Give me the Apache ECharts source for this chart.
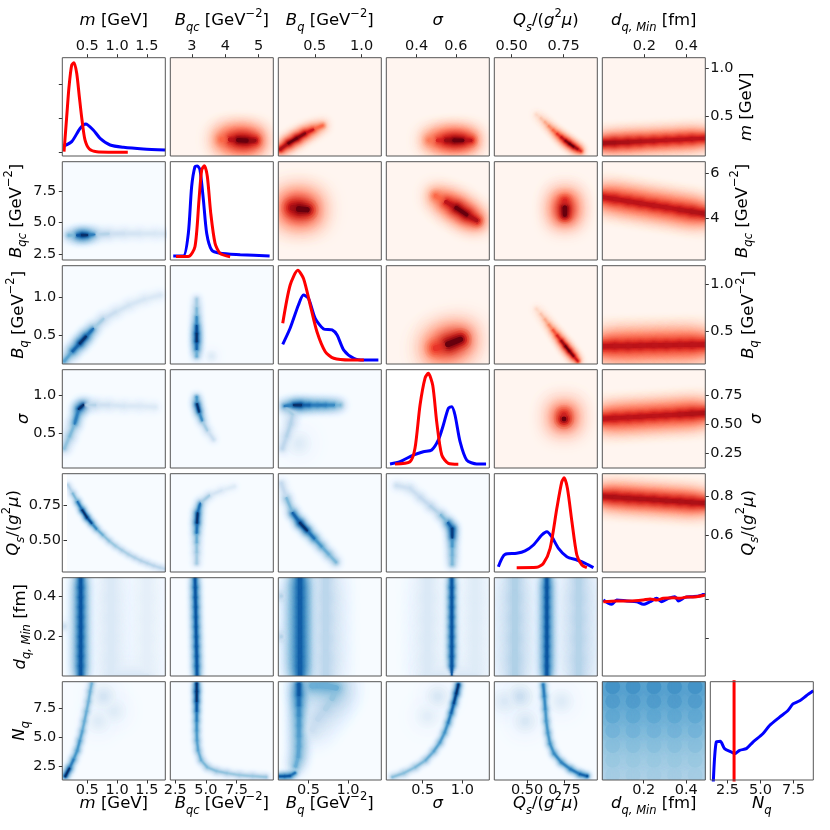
<!DOCTYPE html>
<html lang="en">
<head>
<meta charset="UTF-8">
<title>Corner plot</title>
<style>
    html, body { margin: 0; padding: 0; background: #fff; }
    .chart { width: 830px; height: 830px; }
</style>
</head>
<body>
<div class="chart" id="showData"></div>
<script src="https://cdn.jsdelivr.net/npm/echarts@6/dist/echarts.min.js"></script>
<script>
var FONT = 'DejaVu Sans';
// panel layout (pixels)
var PANEL_W = 103, PANEL_H = 98.3, LEFT0 = 62.3, TOP0 = 57.7, STEP_X = 108, STEP_Y = 104;

// axis titles, one per parameter
var axisTitles = [
    '{it|m} [GeV]',
    '{it|B}{sub|qc} [GeV{sup|\u22122}]',
    '{it|B}{sub|q} [GeV{sup|\u22122}]',
    '{it|\u03c3}',
    '{it|Q}{sub|s}/({it|g}{sup|2}{it|\u03bc})',
    '{it|d}{sub|q, Min} [fm]',
    '{it|N}{sub|q}'
];

// axis ranges: blue (lower triangle + diagonal) and red (upper triangle)
var blueXMin = [0.08, 2.1, 0.12, 0.04, 0.28, 0.005, 1.2];
var blueXMax = [1.81, 10.5, 1.42, 1.34, 0.97, 0.49, 9.0];
var blueYMin = [0.08, 2.0, 0.12, 0.05, 0.28, 0.005, 1.28];
var blueYMax = [1.81, 9.9, 1.42, 1.33, 0.97, 0.49, 9.85];
var redXMin = [0.09, 2.35, 0.11, 0.246, 0.417, 0.0];
var redXMax = [1.11, 5.44, 1.21, 0.77, 0.912, 0.49];
var redYMin = [0.09, 2.15, 0.146, 0.124, 0.41, 0.0];
var redYMax = [1.11, 6.5, 1.2, 0.967, 0.914, 0.49];

// tick values
var blueTicks = [[0.5, 1.0, 1.5], [2.5, 5.0, 7.5], [0.5, 1.0], [0.5, 1.0], [0.50, 0.75], [0.2, 0.4], [2.5, 5.0, 7.5]];
var blueDecimals = [1, 1, 1, 1, 2, 1, 1];
var redTopTicks = [[], [3, 4, 5], [0.5, 1.0], [0.4, 0.6], [0.50, 0.75], [0.2, 0.4]];
var redTopDecimals = [1, 0, 1, 1, 2, 1];
var redRightTicks = [[0.5, 1.0], [4, 6], [0.5, 1.0], [0.25, 0.50, 0.75], [0.6, 0.8]];
var redRightDecimals = [1, 0, 1, 2, 1];
var densityTicksM = [0.041, 0.387, 0.732];
var densityTicksDq = [0.387, 0.78];

// 1D marginals on the diagonal: [value, normalised density]
var mBlue = [[0.097,0.10],[0.238,0.146],[0.378,0.28],[0.474,0.326],[0.60,0.265],[0.715,0.18],[0.883,0.112],[1.107,0.088],[1.44,0.071],[1.81,0.061]];
var mRed = [[0.109,0.044],[0.154,0.40],[0.193,0.705],[0.238,0.926],[0.277,0.949],[0.322,0.841],[0.366,0.603],[0.411,0.366],[0.461,0.163],[0.534,0.071],[0.658,0.044],[1.18,0.038]];
var bqcBlue = [[2.34,0.04],[3.16,0.04],[3.57,0.27],[3.84,0.745],[4.11,0.95],[4.30,0.956],[4.52,0.916],[4.80,0.61],[5.07,0.27],[5.48,0.10],[6.16,0.068],[7.80,0.054],[10.2,0.04]];
var bqcRed = [[2.56,0.035],[3.57,0.035],[4.11,0.135],[4.44,0.61],[4.66,0.916],[4.88,0.96],[5.12,0.85],[5.40,0.475],[5.75,0.17],[6.16,0.068],[6.98,0.034]];
var bqBlue = [[0.176,0.2],[0.269,0.363],[0.374,0.6],[0.438,0.702],[0.501,0.668],[0.586,0.465],[0.692,0.356],[0.799,0.346],[0.862,0.295],[0.946,0.142],[1.073,0.058],[1.20,0.041],[1.383,0.041]];
var bqRed = [[0.176,0.414],[0.269,0.801],[0.367,0.953],[0.438,0.869],[0.523,0.6],[0.608,0.328],[0.713,0.125],[0.819,0.058],[1.03,0.041],[1.20,0.041]];
var sigBlue = [[0.087,0.041],[0.213,0.064],[0.381,0.132],[0.507,0.166],[0.613,0.183],[0.697,0.285],[0.76,0.437],[0.823,0.607],[0.866,0.624],[0.907,0.539],[0.971,0.268],[1.055,0.081],[1.181,0.041],[1.299,0.041]];
var sigRed = [[0.15,0.041],[0.339,0.064],[0.402,0.2],[0.466,0.641],[0.529,0.915],[0.57,0.963],[0.626,0.841],[0.676,0.471],[0.74,0.132],[0.823,0.048],[0.949,0.038]];
var qsBlue = [[0.307,0.054],[0.352,0.18],[0.43,0.19],[0.486,0.214],[0.542,0.275],[0.598,0.376],[0.632,0.41],[0.665,0.359],[0.71,0.241],[0.766,0.156],[0.833,0.122],[0.889,0.088],[0.944,0.044]];
var qsRed = [[0.43,0.044],[0.565,0.048],[0.609,0.088],[0.654,0.241],[0.699,0.648],[0.732,0.917],[0.748,0.958],[0.77,0.849],[0.8,0.512],[0.833,0.173],[0.867,0.071],[0.9,0.044]];
var dqBlue = [[0.0097,0.773],[0.033,0.74],[0.049,0.729],[0.073,0.773],[0.12,0.763],[0.167,0.756],[0.198,0.729],[0.23,0.756],[0.261,0.79],[0.285,0.756],[0.316,0.79],[0.347,0.807],[0.363,0.763],[0.394,0.80],[0.433,0.807],[0.465,0.817],[0.49,0.841]];
var dqRed = [[0.0097,0.756],[0.073,0.763],[0.136,0.763],[0.198,0.773],[0.23,0.783],[0.261,0.773],[0.292,0.79],[0.339,0.797],[0.37,0.79],[0.402,0.803],[0.449,0.807],[0.49,0.824]];
var nqBlue = [[1.42,-0.05],[1.65,0.386],[1.96,0.393],[2.28,0.319],[2.79,0.285],[3.04,0.268],[3.42,0.302],[3.93,0.319],[4.43,0.386],[5.18,0.47],[5.69,0.555],[6.45,0.64],[7.08,0.707],[7.46,0.774],[7.97,0.806],[8.47,0.857],[9.0,0.907]];
var nqFixed = [[3.0,-0.1],[3.0,1.1]];

// 2D densities, read as ridge points: [x, y, density level 0..1, spread (fraction of panel width)]
// red (upper triangle)
var redMBqc = [[3.90,0.26,0.5,0.34],[4.14,0.26,0.8,0.34],[4.39,0.255,1,0.34],[4.64,0.25,0.9,0.34],[4.88,0.25,0.6,0.34]];
var redMBq = [[0.132,0.161,0.85,0.17],[0.22,0.223,1,0.17],[0.308,0.274,0.95,0.17],[0.396,0.325,0.75,0.17],[0.484,0.365,0.5,0.17],[0.583,0.406,0.3,0.17]];
var redMSig = [[0.466,0.253,0.45,0.3],[0.508,0.253,0.7,0.3],[0.55,0.253,0.9,0.3],[0.592,0.253,1,0.3],[0.634,0.253,0.8,0.3],[0.676,0.253,0.5,0.3]];
var redMQs = [[0.620,0.518,0.15,0.12],[0.640,0.483,0.22,0.12],[0.660,0.442,0.3,0.12],[0.679,0.401,0.4,0.12],[0.699,0.36,0.5,0.12],[0.719,0.32,0.65,0.12],
    [0.739,0.284,0.8,0.12],[0.759,0.248,0.95,0.12],[0.778,0.218,1,0.12],[0.798,0.187,0.9,0.12],[0.818,0.161,0.7,0.12],[0.833,0.141,0.45,0.12]];
var redMDq = [[0,0.223,0.88,0.26],[0.059,0.229,0.86,0.26],[0.1225,0.235,0.84,0.26],[0.181,0.241,0.82,0.26],[0.245,0.248,0.8,0.26],
    [0.304,0.254,0.8,0.26],[0.3675,0.261,0.8,0.26],[0.426,0.267,0.8,0.26],[0.49,0.274,0.8,0.26]];
var redBqcBq = [[0.264,4.456,0.85,0.45],[0.33,4.41,1,0.45],[0.418,4.37,0.6,0.45]];
var redBqcSig = [[0.498,4.98,0.5,0.3],[0.55,4.72,0.8,0.3],[0.602,4.46,1,0.3],[0.655,4.15,0.85,0.3],[0.707,3.89,0.5,0.3]];
var redBqcQs = [[0.756,4.76,0.7,0.36],[0.756,4.46,1,0.36],[0.756,4.15,0.7,0.36]];
var redBqcDq = [[0,4.934,0.8,0.32],[0.059,4.847,0.8,0.32],[0.1225,4.751,0.8,0.32],[0.181,4.66,0.8,0.32],[0.245,4.564,0.8,0.32],
    [0.304,4.477,0.8,0.32],[0.3675,4.377,0.82,0.32],[0.426,4.29,0.84,0.32],[0.49,4.195,0.84,0.32]];
var redBqSig = [[0.498,0.315,0.65,0.45],[0.56,0.357,1,0.45],[0.623,0.41,0.7,0.45]];
var redBqQs = [[0.620,0.736,0.15,0.12],[0.640,0.684,0.22,0.12],[0.660,0.626,0.3,0.12],[0.679,0.568,0.4,0.12],[0.699,0.51,0.55,0.12],[0.719,0.452,0.7,0.12],
    [0.739,0.394,0.9,0.12],[0.759,0.336,1,0.12],[0.778,0.283,0.95,0.12],[0.798,0.23,0.75,0.12],[0.818,0.178,0.5,0.12]];
var redBqDq = [[0,0.335,0.8,0.36],[0.059,0.338,0.8,0.36],[0.1225,0.34,0.8,0.36],[0.181,0.343,0.8,0.36],[0.245,0.346,0.8,0.36],
    [0.304,0.348,0.8,0.36],[0.3675,0.351,0.8,0.36],[0.426,0.353,0.8,0.36],[0.49,0.356,0.8,0.36]];
var redSigQs = [[0.752,0.579,0.7,0.4],[0.752,0.545,1,0.4]];
var redSigDq = [[0,0.546,0.8,0.32],[0.059,0.552,0.8,0.32],[0.1225,0.558,0.8,0.32],[0.181,0.564,0.8,0.32],[0.245,0.571,0.8,0.32],
    [0.304,0.577,0.8,0.32],[0.3675,0.583,0.82,0.32],[0.426,0.589,0.84,0.32],[0.49,0.596,0.85,0.32]];
var redQsDq = [[0,0.798,0.85,0.3],[0.059,0.794,0.85,0.3],[0.1225,0.789,0.85,0.3],[0.181,0.785,0.85,0.3],[0.245,0.781,0.85,0.3],
    [0.304,0.776,0.85,0.3],[0.3675,0.772,0.85,0.3],[0.426,0.767,0.85,0.3],[0.49,0.763,0.85,0.3]];

// blue (lower triangle)
var blueBqcM = [[0.19,3.98,0.45,0.17],[0.33,3.98,0.85,0.17],[0.41,4.0,1,0.17],[0.50,4.0,0.7,0.17],[0.62,4.05,0.3,0.17],[0.86,4.1,0.2,0.17],
    [1.12,4.12,0.17,0.17],[1.38,4.12,0.15,0.17],[1.64,4.12,0.14,0.17],[1.81,4.1,0.13,0.17]];
var blueBqM = [[0.115,0.159,0.55,0.16],[0.253,0.289,0.8,0.16],[0.374,0.393,1,0.16],[0.478,0.484,0.75,0.16],[0.599,0.588,0.35,0.16],[0.772,0.718,0.22,0.16],
    [0.98,0.809,0.18,0.16],[1.205,0.90,0.16,0.16],[1.464,0.978,0.14,0.16],[1.724,1.03,0.13,0.16]];
var blueSigM = [[1.637,0.844,0.13,0.16],[1.378,0.856,0.14,0.16],[1.118,0.856,0.16,0.16],[0.859,0.869,0.2,0.16],[0.634,0.869,0.3,0.16],[0.433,0.869,1,0.16],
    [0.357,0.818,0.7,0.16],[0.288,0.626,0.45,0.16],[0.201,0.46,0.4,0.16],[0.115,0.306,0.4,0.16]];
var blueQsM = [[0.097,0.891,0.3,0.1],[0.18,0.832,0.45,0.1],[0.265,0.773,0.75,0.1],[0.348,0.715,1,0.1],[0.433,0.662,0.9,0.1],[0.516,0.622,0.65,0.1],
    [0.601,0.582,0.5,0.1],[0.713,0.539,0.42,0.1],[0.824,0.497,0.38,0.1],[0.936,0.462,0.35,0.1],[1.049,0.432,0.33,0.1],[1.161,0.404,0.32,0.1],
    [1.272,0.381,0.31,0.1],[1.384,0.359,0.3,0.1],[1.497,0.341,0.29,0.1],[1.608,0.324,0.28,0.1],[1.72,0.31,0.27,0.1],[1.805,0.301,0.27,0.1]];
var blueDqM = [[0.39,0.005,0.85,0.2],[0.39,0.054,0.85,0.2],[0.39,0.102,0.85,0.2],[0.39,0.151,0.85,0.2],[0.39,0.199,0.85,0.2],[0.39,0.248,0.85,0.2],
    [0.39,0.296,0.85,0.2],[0.39,0.345,0.85,0.2],[0.39,0.393,0.85,0.2],[0.39,0.442,0.85,0.2],[0.39,0.49,0.85,0.2],
    [0.9,0.49,0.14,0.45],[0.9,0.39,0.14,0.45],[0.9,0.29,0.14,0.45],[0.9,0.19,0.14,0.45],[0.9,0.09,0.14,0.45],[0.9,0.005,0.14,0.45],
    [1.5,0.005,0.09,0.45],[1.5,0.09,0.09,0.45],[1.5,0.19,0.09,0.45],[1.5,0.29,0.09,0.45],[1.5,0.39,0.09,0.45],[1.5,0.49,0.09,0.45],
    [0.12,0.25,0.2,0.21]];
var blueNqM = [[0.132,1.623,1,0.11],[0.201,2.308,0.7,0.11],[0.27,3.08,0.6,0.11],[0.331,3.85,0.6,0.11],[0.374,4.708,0.55,0.11],[0.417,5.565,0.5,0.11],
    [0.452,6.42,0.5,0.11],[0.487,7.28,0.48,0.11],[0.521,8.14,0.48,0.11],[0.547,8.99,0.48,0.11],[0.573,9.68,0.48,0.11],
    [0.772,8.56,0.17,0.5],[0.945,7.28,0.12,0.5],[0.686,6.42,0.12,0.5]];
var blueBqBqc = [[4.25,0.224,0.5,0.13],[4.25,0.315,0.8,0.13],[4.25,0.419,1,0.13],[4.25,0.523,0.9,0.13],[4.25,0.627,0.65,0.13],[4.25,0.744,0.45,0.13],
    [4.25,0.861,0.35,0.13],[4.25,0.978,0.25,0.13],[5.46,0.224,0.12,0.25]];
var blueSigBqc = [[4.25,0.972,0.6,0.12],[4.28,0.882,1,0.12],[4.45,0.78,0.65,0.12],[4.70,0.664,0.35,0.12],[5.12,0.536,0.22,0.12],[5.63,0.421,0.14,0.12]];
var blueQsBqc = [[4.25,0.342,0.35,0.12],[4.25,0.418,0.4,0.12],[4.25,0.487,0.5,0.12],[4.25,0.556,0.75,0.12],[4.28,0.625,1,0.12],[4.33,0.694,0.75,0.12],
    [4.54,0.763,0.35,0.12],[5.29,0.818,0.17,0.12],[6.3,0.853,0.12,0.12],[7.31,0.88,0.1,0.12]];
var blueDqBqc = [[4.28,0.005,0.85,0.13],[4.26,0.054,0.85,0.13],[4.25,0.102,0.85,0.13],[4.23,0.151,0.85,0.13],[4.22,0.199,0.85,0.13],[4.2,0.248,0.85,0.13],
    [4.18,0.296,0.85,0.13],[4.17,0.345,0.85,0.13],[4.15,0.393,0.85,0.13],[4.14,0.442,0.85,0.13],[4.12,0.49,0.88,0.13]];
var blueNqBqc = [[4.25,9.68,1,0.11],[4.25,8.99,1,0.11],[4.25,8.14,0.85,0.11],[4.25,7.28,0.7,0.11],[4.25,6.42,0.62,0.11],[4.25,5.565,0.58,0.11],
    [4.28,4.708,0.55,0.11],[4.37,3.85,0.5,0.11],[4.62,2.994,0.45,0.11],[5.12,2.39,0.42,0.11],[5.88,2.05,0.4,0.11],[6.72,1.88,0.38,0.11],
    [7.73,1.71,0.38,0.11],[8.82,1.62,0.38,0.11],[9.91,1.54,0.38,0.11]];
var blueSigBq = [[0.9,0.869,0.45,0.17],[0.822,0.869,0.65,0.17],[0.718,0.869,0.7,0.17],[0.614,0.869,0.7,0.17],[0.51,0.869,0.8,0.17],[0.406,0.869,1,0.17],
    [0.315,0.869,0.7,0.17],[0.198,0.856,0.35,0.17],[0.3,0.75,0.3,0.17],[0.276,0.626,0.3,0.17],[0.224,0.46,0.27,0.17],[0.172,0.306,0.25,0.17],
    [0.38,0.37,0.12,0.5]];
var blueQsBq = [[0.159,0.901,0.25,0.15],[0.224,0.798,0.45,0.15],[0.302,0.694,0.8,0.15],[0.393,0.625,1,0.15],[0.484,0.57,0.75,0.15],[0.575,0.515,0.6,0.15],
    [0.666,0.459,0.5,0.15],[0.757,0.404,0.45,0.15],[0.848,0.349,0.4,0.15]];
var blueDqBq = [[0.393,0.005,0.82,0.3],[0.393,0.054,0.82,0.3],[0.393,0.102,0.82,0.3],[0.393,0.151,0.82,0.3],[0.393,0.199,0.82,0.3],[0.393,0.248,0.82,0.3],
    [0.393,0.296,0.82,0.3],[0.393,0.345,0.82,0.3],[0.393,0.393,0.82,0.3],[0.393,0.442,0.82,0.3],[0.393,0.49,0.85,0.3],
    [0.72,0.49,0.28,0.45],[0.72,0.39,0.28,0.45],[0.72,0.29,0.28,0.45],[0.72,0.19,0.28,0.45],[0.72,0.09,0.28,0.45],[0.72,0.005,0.28,0.45],
    [0.159,0.2,0.3,0.25],[0.159,0.4,0.3,0.25]];
var blueNqBq = [[0.38,9.6,0.85,0.22],[0.38,8.7,0.75,0.22],[0.38,7.8,0.65,0.22],[0.38,6.9,0.6,0.22],[0.38,6.0,0.58,0.22],[0.38,5.1,0.55,0.22],
    [0.38,4.2,0.55,0.22],[0.37,3.3,0.5,0.22],[0.34,2.5,0.5,0.22],
    [0.55,9.5,0.5,0.45],[0.72,9.5,0.5,0.45],[0.85,9.3,0.4,0.45],[0.8,8.4,0.32,0.45],[0.72,7.5,0.27,0.45],[0.62,6.6,0.22,0.45],[0.55,5.7,0.18,0.45],
    [0.13,1.6,0.85,0.11],[0.2,1.6,0.85,0.11],[0.27,1.65,0.75,0.11],[0.33,1.9,0.6,0.11]];
var blueQsSig = [[0.17,0.887,0.2,0.15],[0.339,0.867,0.22,0.15],[0.469,0.804,0.25,0.15],[0.599,0.742,0.3,0.15],[0.729,0.68,0.45,0.15],[0.82,0.625,0.8,0.15],
    [0.872,0.584,0.95,0.15],[0.872,0.521,0.6,0.15],[0.872,0.459,0.48,0.15],[0.872,0.397,0.45,0.15],[0.872,0.335,0.45,0.15]];
var blueDqSig = [[0.866,0.005,0.85,0.14],[0.866,0.054,0.85,0.14],[0.866,0.102,0.85,0.14],[0.866,0.151,0.85,0.14],[0.866,0.199,0.85,0.14],[0.866,0.248,0.85,0.14],
    [0.866,0.296,0.85,0.14],[0.866,0.345,0.85,0.14],[0.866,0.393,0.85,0.14],[0.866,0.442,0.85,0.14],[0.866,0.49,0.85,0.14],
    [0.56,0.49,0.14,0.45],[0.56,0.39,0.14,0.45],[0.56,0.29,0.14,0.45],[0.56,0.19,0.14,0.45],[0.56,0.09,0.14,0.45],[0.56,0.005,0.14,0.45],
    [1.16,0.005,0.12,0.45],[1.16,0.09,0.12,0.45],[1.16,0.19,0.12,0.45],[1.16,0.29,0.12,0.45],[1.16,0.39,0.12,0.45],[1.16,0.49,0.12,0.45]];
var blueNqSig = [[0.95,9.59,1,0.11],[0.924,8.82,0.92,0.11],[0.892,7.96,0.8,0.11],[0.859,7.11,0.7,0.11],[0.82,6.25,0.62,0.11],[0.775,5.39,0.58,0.11],
    [0.716,4.54,0.55,0.11],[0.638,3.77,0.5,0.11],[0.534,2.99,0.45,0.11],[0.404,2.39,0.42,0.11],[0.261,1.88,0.42,0.11],[0.118,1.54,0.42,0.11],
    [0.69,8.56,0.15,0.5],[0.56,6.85,0.1,0.5]];
var blueDqQs = [[0.632,0.005,0.85,0.18],[0.632,0.054,0.85,0.18],[0.632,0.102,0.85,0.18],[0.632,0.151,0.85,0.18],[0.632,0.199,0.85,0.18],[0.632,0.248,0.85,0.18],
    [0.632,0.296,0.85,0.18],[0.632,0.345,0.85,0.18],[0.632,0.393,0.85,0.18],[0.632,0.442,0.85,0.18],[0.632,0.49,0.85,0.18],
    [0.418,0.49,0.32,0.45],[0.418,0.39,0.32,0.45],[0.418,0.29,0.32,0.45],[0.418,0.19,0.32,0.45],[0.418,0.09,0.32,0.45],[0.418,0.005,0.32,0.45],
    [0.845,0.005,0.3,0.45],[0.845,0.09,0.3,0.45],[0.845,0.19,0.3,0.45],[0.845,0.29,0.3,0.45],[0.845,0.39,0.3,0.45],[0.845,0.49,0.3,0.45]];
var blueNqQs = [[0.608,9.59,0.7,0.11],[0.615,8.56,0.65,0.11],[0.622,7.45,0.6,0.11],[0.628,6.42,0.6,0.11],[0.639,5.39,0.6,0.11],[0.653,4.45,0.62,0.11],
    [0.68,3.59,0.65,0.11],[0.729,2.82,0.68,0.11],[0.791,2.22,0.72,0.11],[0.853,1.79,0.8,0.11],[0.901,1.62,0.92,0.11],
    [0.4525,8.56,0.22,0.5],[0.487,6.42,0.15,0.5],[0.349,8.14,0.14,0.5],[0.729,8.14,0.12,0.5]];
var blueNqDq = [
    [0.054,9.42,0.62,1.2],[0.15,9.42,0.62,1.2],[0.248,9.42,0.62,1.2],[0.345,9.42,0.62,1.2],[0.442,9.42,0.62,1.2],
    [0.054,8.14,0.57,1.2],[0.15,8.14,0.57,1.2],[0.248,8.14,0.57,1.2],[0.345,8.14,0.57,1.2],[0.442,8.14,0.57,1.2],
    [0.054,6.85,0.52,1.2],[0.15,6.85,0.52,1.2],[0.248,6.85,0.52,1.2],[0.345,6.85,0.52,1.2],[0.442,6.85,0.52,1.2],
    [0.054,5.57,0.47,1.2],[0.15,5.57,0.47,1.2],[0.248,5.57,0.47,1.2],[0.345,5.57,0.47,1.2],[0.442,5.57,0.47,1.2],
    [0.054,4.28,0.42,1.2],[0.15,4.28,0.42,1.2],[0.248,4.28,0.42,1.2],[0.345,4.28,0.42,1.2],[0.442,4.28,0.42,1.2],
    [0.054,3.0,0.38,1.2],[0.15,3.0,0.38,1.2],[0.248,3.0,0.38,1.2],[0.345,3.0,0.38,1.2],[0.442,3.0,0.38,1.2],
    [0.054,1.71,0.35,1.2],[0.15,1.71,0.35,1.2],[0.248,1.71,0.35,1.2],[0.345,1.71,0.35,1.2],[0.442,1.71,0.35,1.2]];

var diagBlue = [mBlue, bqcBlue, bqBlue, sigBlue, qsBlue, dqBlue, nqBlue];
var diagRed = [mRed, bqcRed, bqRed, sigRed, qsRed, dqRed, nqFixed];
var blobData = {
    '0,1': redMBqc, '0,2': redMBq, '0,3': redMSig, '0,4': redMQs, '0,5': redMDq,
    '1,2': redBqcBq, '1,3': redBqcSig, '1,4': redBqcQs, '1,5': redBqcDq,
    '2,3': redBqSig, '2,4': redBqQs, '2,5': redBqDq,
    '3,4': redSigQs, '3,5': redSigDq, '4,5': redQsDq,
    '1,0': blueBqcM, '2,0': blueBqM, '3,0': blueSigM, '4,0': blueQsM, '5,0': blueDqM, '6,0': blueNqM,
    '2,1': blueBqBqc, '3,1': blueSigBqc, '4,1': blueQsBqc, '5,1': blueDqBqc, '6,1': blueNqBqc,
    '3,2': blueSigBq, '4,2': blueQsBq, '5,2': blueDqBq, '6,2': blueNqBq,
    '4,3': blueQsSig, '5,3': blueDqSig, '6,3': blueNqSig,
    '5,4': blueDqQs, '6,4': blueNqQs, '6,5': blueNqDq
};

var leftNameGap = [0, 33, 31, 26, 40, 29, 30];
var rightNameGap = [28, 24, 30, 38, 30];
var topNameGap = 24, bottomNameGap = 11;

// colour ramps (matplotlib Reds / Blues)
var redRamp = ['#fff5f0', '#fee0d2', '#fcbba1', '#fc9272', '#fb6a4a', '#ef3b2c', '#cb181d', '#a50f15', '#67000d'];
var blueRamp = ['#f7fbff', '#deebf7', '#c6dbef', '#9ecae1', '#6baed6', '#4292c6', '#2171b5', '#08519c', '#08306b'];
// nested layers per density point, from the outer halo to the core
var LEVEL_SIZE = [1.0, 0.78, 0.58, 0.4, 0.24];
var LEVEL_TONE = [0.25, 0.45, 0.65, 0.83, 1.0];

var richText = {
    it: {fontStyle: 'italic', fontSize: 16.5, fontFamily: FONT, color: '#000'},
    sub: {fontStyle: 'italic', fontSize: 11.5, fontFamily: FONT, color: '#000', verticalAlign: 'bottom'},
    sup: {fontSize: 11.5, fontFamily: FONT, color: '#000', verticalAlign: 'top'}
};

function hexRgb(h) {
    return [parseInt(h.substr(1, 2), 16), parseInt(h.substr(3, 2), 16), parseInt(h.substr(5, 2), 16)];
}
function rampColor(ramp, t) {
    t = Math.max(0, Math.min(1, t));
    var x = t * (ramp.length - 1);
    var k = Math.min(Math.floor(x), ramp.length - 2);
    var f = x - k;
    var a = hexRgb(ramp[k]), b = hexRgb(ramp[k + 1]);
    return 'rgb(' + Math.round(a[0] + (b[0] - a[0]) * f) + ',' + Math.round(a[1] + (b[1] - a[1]) * f) + ',' +
        Math.round(a[2] + (b[2] - a[2]) * f) + ')';
}
function fmt(dec) {
    return function (v) { return v.toFixed(dec); };
}
function hiddenAxis(min, max, gridIndex) {
    return {
        type: 'value', gridIndex: gridIndex, min: min, max: max,
        axisLine: {show: false, onZero: false},
        axisTick: {show: false}, axisLabel: {show: false}, splitLine: {show: false}
    };
}
function setTicks(ax, pos, ticks, dec, margin) {
    ax.position = pos;
    ax.axisTick = {show: true, length: 3.5, customValues: ticks, lineStyle: {color: '#333', width: 1}};
    if (dec !== null) {
        ax.axisLabel = {show: true, customValues: ticks, formatter: fmt(dec), margin: margin,
            fontSize: 14.5, fontFamily: FONT, color: '#111'};
    }
}
function setName(ax, title, gap, rotate) {
    ax.name = title;
    ax.nameLocation = 'middle';
    ax.nameGap = gap;
    ax.nameRotate = rotate;
    ax.nameMoveOverlap = false;
    ax.nameTextStyle = {fontSize: 16.5, fontFamily: FONT, color: '#000', lineHeight: 26, rich: richText};
}
// one layer of soft density: blurred disc per point, joined to the next point of the same ridge
function blobLayer(data, ramp, level) {
    return function (params, api) {
        var j = params.dataIndex;
        var pt = data[j];
        var p = api.coord([pt[0], pt[1]]);
        var outer = pt[3] * PANEL_W / 2;
        var R = outer * LEVEL_SIZE[level];
        var col = rampColor(ramp, pt[2] * LEVEL_TONE[level]);
        var z2 = level * 200 + Math.round(pt[2] * 100);
        var blur = R * 1.3;
        var children = [{
            type: 'circle', z2: z2, shape: {cx: p[0], cy: p[1], r: R * 0.5},
            style: {fill: col, shadowBlur: blur, shadowColor: col}
        }];
        var nx = data[j + 1];
        if (nx && nx[3] === pt[3] && pt[3] < 0.5) {
            var q = api.coord([nx[0], nx[1]]);
            var dist = Math.sqrt((q[0] - p[0]) * (q[0] - p[0]) + (q[1] - p[1]) * (q[1] - p[1]));
            if (dist < 2.6 * outer) {
                children.push({
                    type: 'line', z2: z2, shape: {x1: p[0], y1: p[1], x2: q[0], y2: q[1]},
                    style: {stroke: col, lineWidth: R, lineCap: 'round', shadowBlur: blur, shadowColor: col}
                });
            }
        }
        return {type: 'group', children: children};
    };
}

function buildOption() {
    var grids = [], xAxes = [], yAxes = [], series = [], frames = [];
    for (var r = 0; r < 7; r++) {
        for (var c = 0; c < 7; c++) {
            if (c > r && c === 6) continue;
            var idx = grids.length;
            var panelLeft = LEFT0 + STEP_X * c, panelTop = TOP0 + STEP_Y * r;
            var kind = r === c ? 'diag' : (c > r ? 'red' : 'blue');
            grids.push({
                left: panelLeft, top: panelTop, width: PANEL_W, height: PANEL_H, show: true, borderWidth: 0,
                backgroundColor: kind === 'red' ? '#fff5f0' : (kind === 'blue' ? '#f7fbff' : '#ffffff')
            });
            frames.push({
                type: 'rect', z: 100, silent: true,
                shape: {x: panelLeft, y: panelTop, width: PANEL_W, height: PANEL_H},
                style: {fill: 'none', stroke: '#555', lineWidth: 1}
            });

            var xa, ya;
            if (kind === 'red') {
                xa = hiddenAxis(redXMin[c], redXMax[c], idx);
                ya = hiddenAxis(redYMin[r], redYMax[r], idx);
            } else if (kind === 'blue') {
                xa = hiddenAxis(blueXMin[c], blueXMax[c], idx);
                ya = hiddenAxis(blueYMin[r], blueYMax[r], idx);
            } else {
                xa = hiddenAxis(blueXMin[c], blueXMax[c], idx);
                ya = hiddenAxis(0, 1, idx);
            }

            if (r === 0) {
                setTicks(xa, 'top', c === 0 ? blueTicks[0] : redTopTicks[c], c === 0 ? blueDecimals[0] : redTopDecimals[c], 4);
                setName(xa, axisTitles[c], topNameGap, 0);
            }
            if (r === 6) {
                setTicks(xa, 'bottom', blueTicks[c], blueDecimals[c], 3);
                setName(xa, axisTitles[c], bottomNameGap, 0);
            }
            if (c === 0 && r > 0) {
                setTicks(ya, 'left', blueTicks[r], blueDecimals[r], 6);
                setName(ya, axisTitles[r], leftNameGap[r], 90);
            }
            if (c === 5 && r < 5) {
                setTicks(ya, 'right', redRightTicks[r], redRightDecimals[r], 5);
                setName(ya, axisTitles[r], rightNameGap[r], 90);
            }
            if (r === 0 && c === 0) setTicks(ya, 'left', densityTicksM, null, 0);
            if (r === 5 && c === 5) setTicks(ya, 'right', densityTicksDq, null, 0);
            xAxes.push(xa);
            yAxes.push(ya);

            if (kind === 'diag') {
                series.push({
                    type: 'line', xAxisIndex: idx, yAxisIndex: idx, data: diagBlue[c], symbol: 'none',
                    smooth: 0.25, clip: true, silent: true, lineStyle: {color: '#0000ff', width: 3}
                });
                series.push({
                    type: 'line', xAxisIndex: idx, yAxisIndex: idx, data: diagRed[c], symbol: 'none',
                    smooth: c === 6 ? false : 0.25, clip: true, silent: true, lineStyle: {color: '#ff0000', width: 3}
                });
            } else {
                var pts = blobData[r + ',' + c];
                for (var lv = 0; lv < LEVEL_SIZE.length; lv++) {
                    series.push({
                        type: 'custom', xAxisIndex: idx, yAxisIndex: idx, clip: true, silent: true,
                        dimensions: ['x', 'y', 'w', 'd'], encode: {x: 0, y: 1},
                        data: pts,
                        renderItem: blobLayer(pts, kind === 'red' ? redRamp : blueRamp, lv)
                    });
                }
            }
        }
    }
    return {
        animation: false,
        grid: grids,
        xAxis: xAxes,
        yAxis: yAxes,
        series: series,
        graphic: {elements: frames}
    };
}

var mychart = echarts.init(document.getElementById('showData'));
mychart.setOption(buildOption());
</script>
</body>
</html>
